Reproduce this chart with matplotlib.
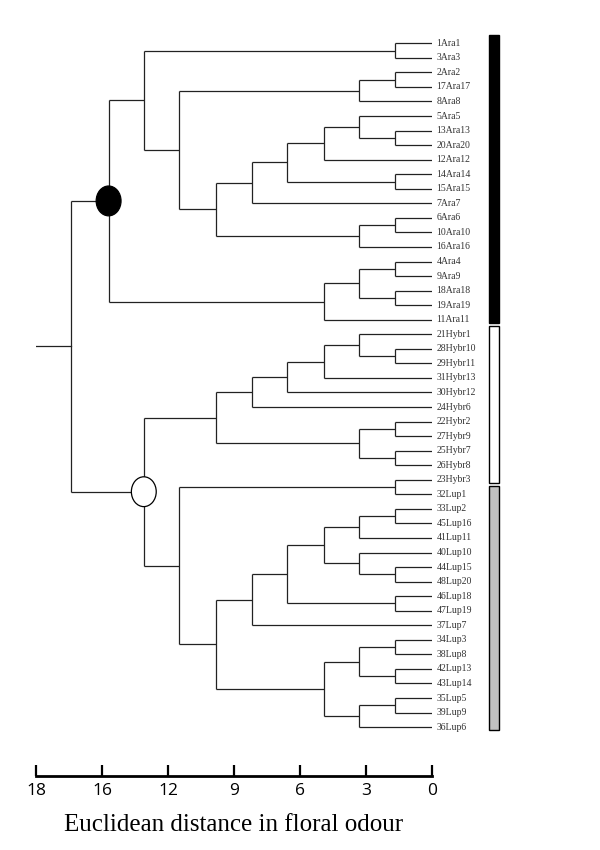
import matplotlib
matplotlib.use('Agg')
from matplotlib import pyplot as plt
from matplotlib.patches import Ellipse, Rectangle

# leaf labels, top to bottom
leaves = ['1Ara1', '3Ara3', '2Ara2', '17Ara17', '8Ara8', '5Ara5', '13Ara13', '20Ara20',
          '12Ara12', '14Ara14', '15Ara15', '7Ara7', '6Ara6', '10Ara10', '16Ara16',
          '4Ara4', '9Ara9', '18Ara18', '19Ara19', '11Ara11',
          '21Hybr1', '28Hybr10', '29Hybr11', '31Hybr13', '30Hybr12', '24Hybr6',
          '22Hybr2', '27Hybr9', '25Hybr7', '26Hybr8', '23Hybr3',
          '32Lup1', '33Lup2', '45Lup16', '41Lup11', '40Lup10', '44Lup15', '48Lup20',
          '46Lup18', '47Lup19', '37Lup7', '34Lup3', '38Lup8', '42Lup13', '43Lup14',
          '35Lup5', '39Lup9', '36Lup6']

# merges: (child a, child b, height); new clusters numbered from len(leaves)
merges = [
    (0, 1, 1.7), (2, 3, 1.7), (49, 4, 3.3), (6, 7, 1.7), (5, 51, 3.3), (52, 8, 4.9),
    (9, 10, 1.7), (53, 54, 6.6), (55, 11, 8.2), (12, 13, 1.7), (57, 14, 3.3),
    (56, 58, 9.8), (50, 59, 11.5), (48, 60, 13.1), (15, 16, 1.7), (17, 18, 1.7),
    (62, 63, 3.3), (64, 19, 4.9), (61, 65, 14.7),
    (21, 22, 1.7), (20, 67, 3.3), (68, 23, 4.9), (69, 24, 6.6), (70, 25, 8.2),
    (26, 27, 1.7), (28, 29, 1.7), (72, 73, 3.3), (71, 74, 9.8),
    (30, 31, 1.7), (32, 33, 1.7), (77, 34, 3.3), (36, 37, 1.7), (35, 79, 3.3),
    (78, 80, 4.9), (38, 39, 1.7), (81, 82, 6.6), (83, 40, 8.2), (41, 42, 1.7),
    (43, 44, 1.7), (85, 86, 3.3), (45, 46, 1.7), (88, 47, 3.3), (87, 89, 4.9),
    (84, 90, 9.8), (76, 91, 11.5), (75, 92, 13.1), (66, 93, 16.4),
]
root_start = 18.0

# highlighted nodes
node_black = 66
node_white = 93

# groups shown as bars on the right (first leaf, last leaf)
group_first = [0, 20, 31]
group_last = [19, 30, 47]
group_colors = ['black', 'white', '#c0c0c0']

tick_pos = [0, 3, 6, 9, 12, 15, 18]
tick_labels = ['0', '3', '6', '9', '12', '16', '18']

fig = plt.figure(figsize=(6, 8.5), dpi=100)
ax = fig.add_axes([36/600, 1 - 775.7/850, (432 - 36)/600, (775.7 - 14.2)/850])
ax.set_xlim(18, 0)
ax.set_ylim(50.34, -2)

xs = {}
ys = {}
for i in range(len(leaves)):
    xs[i] = 0.0
    ys[i] = float(i)

lc = '#222222'
for k, (a, b, h) in enumerate(merges):
    n = len(leaves) + k
    ax.plot([xs[a], h], [ys[a], ys[a]], color=lc, lw=0.9, solid_capstyle='butt')
    ax.plot([xs[b], h], [ys[b], ys[b]], color=lc, lw=0.9, solid_capstyle='butt')
    ax.plot([h, h], [ys[a], ys[b]], color=lc, lw=0.9, solid_capstyle='butt')
    xs[n] = h
    ys[n] = (ys[a] + ys[b]) / 2

root = len(leaves) + len(merges) - 1
ax.plot([root_start, xs[root]], [ys[root], ys[root]], color=lc, lw=0.9)

for n, fc in [(node_black, 'black'), (node_white, 'white')]:
    ax.add_patch(Ellipse((xs[n], ys[n]), 1.13, 2.05, facecolor=fc,
                         edgecolor='black', lw=0.9, zorder=5))

for i, name in enumerate(leaves):
    ax.text(-0.2, i, name, ha='left', va='center', fontsize=7,
            family='Liberation Serif', color='#333333', clip_on=False)

for f, l, c in zip(group_first, group_last, group_colors):
    ax.add_patch(Rectangle((-2.6, f - 0.55), -0.45, (l - f) + 0.75, facecolor=c,
                           edgecolor='black', lw=1.0, clip_on=False))

for s in ['top', 'left', 'right']:
    ax.spines[s].set_visible(False)
ax.spines['bottom'].set_linewidth(2)
ax.set_yticks([])
ax.set_xticks(tick_pos)
ax.set_xticklabels(tick_labels, family='Open Sans', fontsize=12.5)
ax.tick_params(axis='x', direction='in', length=8, width=1.6, pad=5)
ax.set_xlabel('Euclidean distance in floral odour', family='Liberation Serif',
              fontsize=18, labelpad=11)

fig.savefig('out.png', dpi=100)
